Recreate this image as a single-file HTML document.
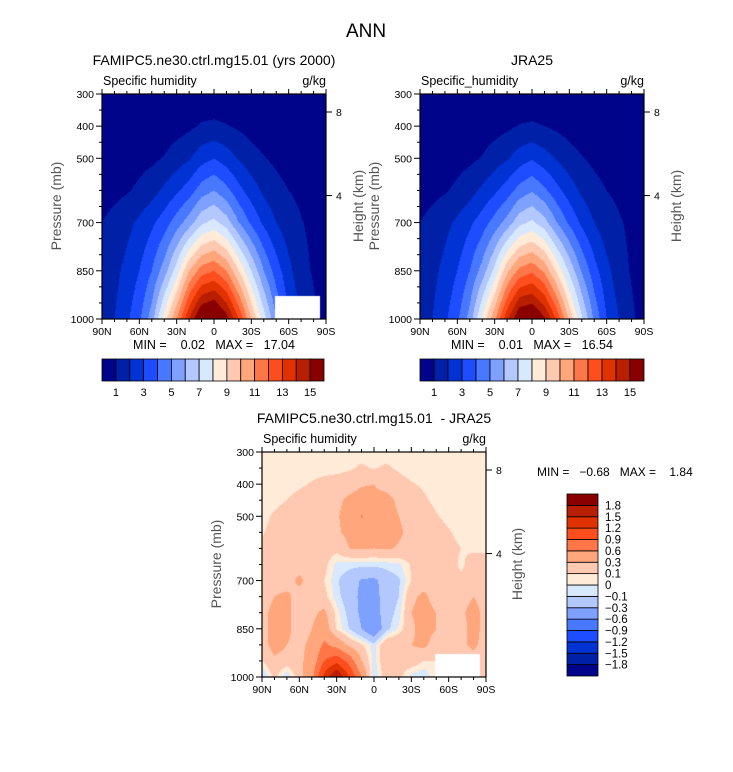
<!DOCTYPE html>
<html><head><meta charset="utf-8">
<style>
body{margin:0;background:#fff;}
#wrap{position:relative;width:733px;height:772px;overflow:hidden;background:#fff;font-family:"Liberation Sans",sans-serif;}
canvas{position:absolute;}
svg{position:absolute;left:0;top:0;}
</style></head>
<body>
<div id="wrap">
<canvas id="c1" width="224" height="225" style="left:102px;top:94px"></canvas>
<canvas id="c2" width="224" height="225" style="left:420px;top:94px"></canvas>
<canvas id="c3" width="224" height="225" style="left:262px;top:452px"></canvas>
<svg id="s" width="733" height="772"></svg>
</div>
<script>
const lats=[90,80,70,60,50,40,30,20,10,0,-10,-20,-30,-40,-50,-60,-70,-80,-90];
const pLevA=[300,400,500,600,700,850,1000];
const modelQ=[
[0.1,0.1,0.1,0.12,0.15,0.18,0.22,0.28,0.36,0.45,0.36,0.28,0.22,0.18,0.15,0.12,0.1,0.1,0.1],
[0.1,0.15,0.2,0.25,0.35,0.45,0.6,0.8,1.1,1.15,1.05,0.85,0.6,0.45,0.35,0.25,0.2,0.15,0.1],
[0.3,0.4,0.5,0.65,0.8,1.05,1.5,1.9,2.6,3.0,2.5,1.9,1.4,1.05,0.8,0.6,0.45,0.35,0.3],
[0.6,0.75,0.9,1.2,1.6,2.2,2.8,3.5,4.5,5.0,4.3,3.3,2.5,1.8,1.3,1.0,0.8,0.6,0.5],
[1.0,1.3,1.7,2.2,2.8,3.5,4.5,5.5,6.8,7.3,6.5,5.0,3.8,2.8,2.0,1.4,1.05,0.8,0.6],
[1.3,1.7,2.3,3.0,4.0,5.5,7.5,10,11.5,12,11,9,7,5,3.5,2.3,1.3,0.9,0.6],
[1.5,2.0,2.8,3.8,5.5,8.5,11,14,16.5,17,15.5,13,10,7.5,5,3,2,1.2,0.5]];
const jraQ=[
[0.1,0.1,0.1,0.12,0.15,0.18,0.22,0.28,0.36,0.45,0.36,0.28,0.22,0.18,0.15,0.12,0.1,0.1,0.1],
[0.1,0.15,0.2,0.25,0.35,0.45,0.6,0.8,1.05,1.1,1.0,0.8,0.6,0.45,0.35,0.25,0.2,0.15,0.1],
[0.3,0.4,0.5,0.65,0.8,1.05,1.5,1.9,2.5,2.9,2.4,1.9,1.4,1.05,0.8,0.6,0.45,0.35,0.3],
[0.6,0.75,0.9,1.2,1.6,2.2,2.8,3.5,4.4,4.9,4.2,3.3,2.5,1.8,1.3,1.0,0.8,0.6,0.5],
[1.0,1.3,1.7,2.2,2.8,3.5,4.4,5.4,6.7,7.2,6.4,5.0,3.8,2.8,2.0,1.4,1.1,0.8,0.6],
[1.3,1.7,2.3,3.0,4.0,5.4,7.3,9.8,11.3,11.8,10.8,8.8,6.8,4.9,3.4,2.3,1.4,0.9,0.6],
[1.5,2.0,2.8,3.8,5.4,8.2,10.8,13.8,16.2,16.5,15.2,12.8,9.8,7.2,4.8,3,2,1.2,0.5]];
const pLevD=[300,350,400,450,500,550,600,650,700,750,800,850,900,950,1000];
const diffQ=[
[.05,.05,.05,.05,.05,.05,.05,.05,.05,.05,.05,.05,.05,.05,.05,.05,.05,.05,.05],
[.05,.05,.05,.05,.05,.05,.05,.08,.12,.09,.12,.08,.05,.05,.05,.05,.05,.05,.05],
[.05,.05,.06,.08,.11,.15,.18,.2,.28,.3,.22,.15,.11,.08,.06,.05,.05,.05,.05],
[.05,.06,.1,.14,.17,.2,.25,.35,.4,.35,.38,.25,.2,.12,.07,.05,.05,.05,.05],
[.06,.12,.17,.2,.22,.25,.28,.38,.62,.4,.4,.3,.22,.17,.11,.07,.05,.05,.05],
[.09,.14,.18,.2,.22,.25,.27,.35,.4,.38,.4,.33,.25,.2,.15,.11,.07,.05,.05],
[.12,.15,.18,.2,.2,.2,.15,.3,.32,.3,.32,.28,.22,.2,.17,.13,.1,.08,.08],
[.15,.17,.2,.2,.2,.15,-.03,-.05,-.06,-.06,-.05,-.02,.12,.2,.18,.15,.08,.15,.15],
[.15,.2,.2,.35,.2,.1,-.08,-.2,-.32,-.35,-.2,-.12,.1,.2,.2,.18,.12,.2,.2],
[.15,.3,.35,.2,.2,.15,-.05,-.2,-.35,-.38,-.2,-.1,.25,.35,.2,.2,.2,.3,.2],
[.2,.4,.35,.2,.25,.35,.05,-.15,-.35,-.42,-.18,-.05,.3,.4,.3,.2,.25,.4,.2],
[.2,.4,.35,.2,.3,.45,.08,-.1,-.3,-.55,-.15,0.02,.25,.4,.3,.2,.2,.4,.2],
[.2,.4,.3,.25,.35,.65,.5,.25,.12,-.05,.25,.3,.3,.35,.2,.2,.25,.35,.2],
[.1,.25,.2,.25,.4,.9,1.1,.8,.3,-.05,.25,.2,.2,.1,.1,.2,.2,.2,.2],
[-.15,.15,-.1,.2,.5,1.3,1.84,1.2,.6,-.1,.2,.15,-.05,-.1,.1,.1,.1,.1,.1]];
const levelsQ=[1,2,3,4,5,6,7,8,9,10,11,12,13,14,15];
const levelsD=[-1.8,-1.5,-1.2,-0.9,-0.6,-0.3,-0.1,0,0.1,0.3,0.6,0.9,1.2,1.5,1.8];
const labelsD=["-1.8","-1.5","-1.2","-0.9","-0.6","-0.3","-0.1","0","0.1","0.3","0.6","0.9","1.2","1.5","1.8"];
const xTickLat=[90,60,30,0,-30,-60,-90];
const xTickLab=["90N","60N","30N","0","30S","60S","90S"];
const yTickP=[300,400,500,700,850,1000];
const hTickKm=[8,4];
const hTickP=[356,616];
const maskModel={lat0:-49,lat1:-85,p0:927,p1:1000};
const colors=["#00048b","#0020a8","#0032d4","#1e4cff","#4878ff","#7ea0ff","#b2c8ff","#d8e8ff","#ffebd8","#ffc8b0","#ffa67c","#ff7648","#ff4e1e","#e03200","#b81e00","#8a0000"];

function hex(c){return [parseInt(c.substr(1,2),16),parseInt(c.substr(3,2),16),parseInt(c.substr(5,2),16)];}
const rgb=colors.map(hex);
function interp(grid,plev,lat,p){
  let j=0;while(j<lats.length-2&&lat<lats[j+1])j++;
  let fx=(lats[j]-lat)/(lats[j]-lats[j+1]);
  let i=0;while(i<plev.length-2&&p>plev[i+1])i++;
  let fy=(p-plev[i])/(plev[i+1]-plev[i]);
  fx=Math.max(0,Math.min(1,fx));fy=Math.max(0,Math.min(1,fy));
  const a=grid[i][j],b=grid[i][j+1],c=grid[i+1][j],d=grid[i+1][j+1];
  return a*(1-fx)*(1-fy)+b*fx*(1-fy)+c*(1-fx)*fy+d*fx*fy;
}
function fill(id,grid,plev,levels,mask){
  const cv=document.getElementById(id),ctx=cv.getContext('2d');
  const W=cv.width,H=cv.height,img=ctx.createImageData(W,H);
  for(let y=0;y<H;y++){const p=300+(y+0.5)/H*700;
    for(let x=0;x<W;x++){const lat=90-(x+0.5)/W*180;
      let k=(y*W+x)*4;
      if(mask&&lat<=mask.lat0&&lat>=mask.lat1&&p>=mask.p0){img.data[k]=255;img.data[k+1]=255;img.data[k+2]=255;img.data[k+3]=255;continue;}
      const v=interp(grid,plev,lat,p);let n=0;while(n<levels.length&&v>=levels[n])n++;
      const c=rgb[n];img.data[k]=c[0];img.data[k+1]=c[1];img.data[k+2]=c[2];img.data[k+3]=255;}}
  ctx.putImageData(img,0,0);
}
fill('c1',modelQ,pLevA,levelsQ,maskModel);
fill('c2',jraQ,pLevA,levelsQ,null);
fill('c3',diffQ,pLevD,levelsD,maskModel);

const S=document.getElementById('s');const NS='http://www.w3.org/2000/svg';
function el(tag,attrs,text){const e=document.createElementNS(NS,tag);for(const k in attrs)e.setAttribute(k,attrs[k]);if(text!==undefined)e.textContent=text;S.appendChild(e);return e;}
function txt(x,y,s,size,anchor,name,extra){const e=el('text',Object.assign({x:x,y:y,'font-size':size,'text-anchor':anchor||'start',fill:'#000','font-family':'Liberation Sans, sans-serif'},extra||{}),s);


return e;}

txt(366,37,'ANN',19,'middle','figure-title');

function panel(x0,y0,title,tcx,hx,minmax){
  const W=224,H=225;
  const X=lat=>x0+(90-lat)/180*W, Y=p=>y0+(p-300)/700*H;
  txt(tcx,y0-29,title,14,'middle','panel-title',{style:'white-space:pre'});
  txt(x0+1,y0-9,title.indexOf('JRA')===0?'Specific_humidity':'Specific humidity',12.5,'start','variable-name');
  txt(x0+W,y0-9,'g/kg',12.5,'end','units-label');
  const f=el('rect',{x:x0,y:y0,width:W,height:H,fill:'none',stroke:'#000','stroke-width':1.2});
  
  
  for(let lat=90;lat>=-90;lat-=10){const major=lat%30===0,L=major?5:3;
    const t1=el('line',{x1:X(lat),x2:X(lat),y1:y0+H,y2:y0+H+L,stroke:'#000','stroke-width':1});
    
    
    const t2=el('line',{x1:X(lat),x2:X(lat),y1:y0,y2:y0-L,stroke:'#000','stroke-width':1});
    
    }
  xTickLat.forEach((lat,i)=>txt(X(lat),y0+H+16,xTickLab[i],10.5,'middle','x-tick-label'));
  for(let p=300;p<=1000;p+=50){const major=yTickP.indexOf(p)>=0;
    const t=el('line',{x1:x0,x2:x0-(major?6:3),y1:Y(p),y2:Y(p),stroke:'#000','stroke-width':1});
    
    }
  yTickP.forEach(p=>txt(x0-8,Y(p)+4,String(p),10.5,'end','y-tick-label'));
  hTickKm.forEach((h,i)=>{const t=el('line',{x1:x0+W,x2:x0+W+6,y1:Y(hTickP[i]),y2:Y(hTickP[i]),stroke:'#000','stroke-width':1});
    
    
    txt(x0+W+10,Y(hTickP[i])+4,String(h),10.5,'start','height-tick-label');});
  txt(0,0,'Pressure (mb)',14,'middle','y-axis-title',{transform:'translate('+(x0-41)+','+(y0+112)+') rotate(-90)',fill:'#555'});
  txt(0,0,'Height (km)',14,'middle','right-axis-title',{transform:'translate('+hx+','+(y0+112)+') rotate(-90)',fill:'#555'});
  if(minmax)txt(x0+W/2,y0+H+30,minmax,12.5,'middle','min-max-label',{style:'white-space:pre'});
  return {X,Y};
}
panel(102,94,'FAMIPC5.ne30.ctrl.mg15.01 (yrs 2000)',214,363,'MIN =    0.02   MAX =   17.04');
panel(420,94,'JRA25',532,681,'MIN =    0.01   MAX =   16.54');
const P3=panel(262,452,'FAMIPC5.ne30.ctrl.mg15.01  - JRA25',374,522,null);
txt(537,476,'MIN =   \u22120.68   MAX =    1.84',12,'start','diff-min-max-label',{style:'white-space:pre'});

function hbar(x0,y0,W,H){const n=colors.length,w=W/n;
  colors.forEach((c,i)=>{const r=el('rect',{x:x0+i*w,y:y0,width:w,height:H,fill:c,stroke:'#000','stroke-width':0.8});
    
    });
  levelsQ.forEach((v,k)=>{if(k%2===0)txt(x0+(k+1)*w,y0+H+15,String(v),11,'middle','colorbar-label');});
}
hbar(102,359,222,22);
hbar(420,359,224,22);
(function(){const x0=567,y0=494,W=31,H=182,n=colors.length,h=H/n;
  colors.forEach((c,i)=>{const r=el('rect',{x:x0,y:y0+(n-1-i)*h,width:W,height:h,fill:c,stroke:'#000','stroke-width':0.8});
    
    });
  levelsD.forEach((v,k)=>{txt(x0+W+7,y0+(n-1-k)*h+4,labelsD[k].replace('-','\u2212'),11.5,'start','diff-colorbar-label');});
})();
</script>
</body></html>
